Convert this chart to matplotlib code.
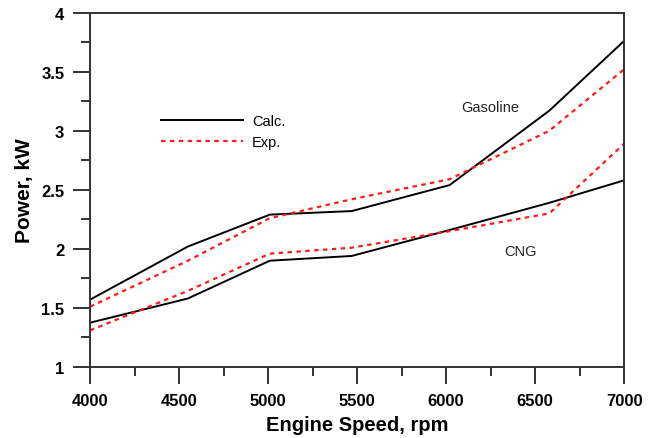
import matplotlib.pyplot as plt
from matplotlib.ticker import MultipleLocator

plt.rcParams['font.family'] = ['Liberation Sans', 'DejaVu Sans']

# engine speed (rpm) at the measured points
rpm = [4000, 4550, 5010, 5470, 6020, 6580, 7000]

# power, kW
gas_calc = [1.57, 2.02, 2.29, 2.32, 2.54, 3.17, 3.76]
gas_exp = [1.51, 1.90, 2.26, 2.42, 2.59, 3.00, 3.52]
cng_calc = [1.375, 1.58, 1.90, 1.94, 2.16, 2.39, 2.58]
cng_exp = [1.31, 1.645, 1.96, 2.01, 2.15, 2.30, 2.89]

fig = plt.figure(figsize=(6.59, 4.39), dpi=100)
ax = fig.add_axes([0.1366, 0.1617, 0.947 - 0.1366, 0.969 - 0.1617])

red = '#ff1a1a'
ax.plot(rpm, gas_calc, color='black', lw=1.4, label='Calc.')
ax.plot(rpm, gas_exp, color=red, lw=1.6, ls=(0, (2, 2)), label='Exp.')
ax.plot(rpm, cng_calc, color='black', lw=1.4)
ax.plot(rpm, cng_exp, color=red, lw=1.6, ls=(0, (2, 2)))

ax.text(6250, 3.2, 'Gasoline', fontsize=10.5, ha='center', va='center', color='#222222')
ax.text(6420, 1.98, 'CNG', fontsize=10.5, ha='center', va='center', color='#222222')

ax.set_xlim(4000, 7000)
ax.set_ylim(1, 4)
ax.xaxis.set_major_locator(MultipleLocator(500))
ax.xaxis.set_minor_locator(MultipleLocator(250))
ax.yaxis.set_minor_locator(MultipleLocator(0.25))
ax.set_yticks([1, 1.5, 2, 2.5, 3, 3.5, 4])
ax.set_yticklabels(['1', '1.5', '2', '2.5', '3', '3.5', '4'])

for s in ax.spines.values():
    s.set_linewidth(1.4)
    s.set_color('#333333')

ax.tick_params(which='major', direction='out', length=12.5, width=1.4, color='#333333',
               labelsize=12, pad=6)
ax.tick_params(which='minor', direction='out', length=6.5, width=1.4, color='#333333')
for lab in ax.get_xticklabels() + ax.get_yticklabels():
    lab.set_fontweight('bold')

ax.set_xlabel('Engine Speed, rpm', fontsize=14.5, fontweight='bold', labelpad=5)
ax.set_ylabel('Power, kW', fontsize=15, fontweight='bold', labelpad=4)
ax.yaxis.set_label_coords(-0.105, 0.5)

ax.legend(loc='upper left', bbox_to_anchor=(0.109, 0.75), frameon=False, fontsize=10.5,
          handlelength=5.6, handletextpad=0.6, labelspacing=0.45)

fig.savefig('out.png', dpi=100)
